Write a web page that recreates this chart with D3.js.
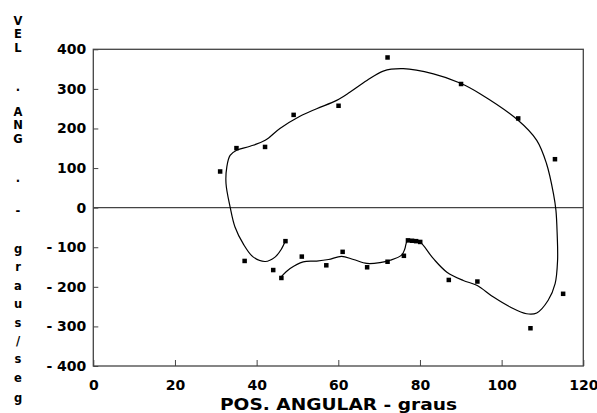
<!DOCTYPE html>
<html>
<head>
<meta charset="utf-8">
<script src="https://cdn.jsdelivr.net/npm/d3@7"></script>
<style>
  body { margin: 0; background: #fff; }
  svg { display: block; }
  text { font-family: "DejaVu Sans", sans-serif; font-weight: bold; fill: #000; }
</style>
</head>
<body>
<div id="chart-container"></div>
<script>
// measured points (POS. ANGULAR in graus, VEL. ANG. in graus/seg)
const posUpper = [31, 35, 42, 49, 60, 72, 90, 104, 113];
const velUpper = [92, 151, 154, 235, 258, 380, 313, 226, 123];
const posLower = [37, 44, 46, 47, 51, 57, 61, 67, 72, 76, 77, 78, 79, 80, 87, 94, 107, 115];
const velLower = [-134, -157, -177, -84, -123, -145, -111, -150, -136, -121, -82, -83, -84, -86, -182, -186, -304, -217];

// fitted curve
const curvePos = [46, 48.2, 51.4, 54.7, 57.6, 60.8, 63.7, 67, 70.2, 72.7, 75.5, 76.3, 76.9, 78.5, 80,
  83.3, 86.6, 90.6, 93.9, 98, 102.1, 106.1, 108.6, 111.4, 113.1, 113.7, 113.6, 113.3, 112.7, 111,
  108.6, 103.9, 94.7, 89.8, 83.3, 75.9, 71, 67, 62.9, 59.6, 54.7, 50.6, 45.7, 42.1, 38.4, 35.1,
  33.5, 32.7, 32.5, 33.5, 34.7, 36.7, 39.2, 42.1, 44.5, 46.1, 47];
const curveVel = [-175, -154, -137, -135, -131, -123, -131, -141, -139, -133, -120, -104, -84, -83, -87,
  -129, -163, -184, -196, -226, -251, -268, -266, -234, -192, -133, -66, -7, 35, 111,
  170, 222, 288, 315, 338, 351, 345, 321, 292, 271, 250, 231, 200, 170, 155, 145,
  132, 103, 61, 2, -49, -91, -125, -136, -125, -104, -85];

const xTicks = [0, 20, 40, 60, 80, 100, 120];
const yTicks = [-400, -300, -200, -100, 0, 100, 200, 300, 400];
const yTitle = "VEL. ANG. - graus/seg";
const xTitle = "POS. ANGULAR - graus";

const fWidth = 597, fHeight = 413;
const margin = {top: 49.3, right: 13.7, bottom: 47, left: 93.3};
const width = fWidth - margin.left - margin.right,
  height = fHeight - margin.top - margin.bottom;

const svg = d3.select("#chart-container").append("svg")
  .attr("width", fWidth)
  .attr("height", fHeight);

const canvas = svg.append("g")
  .attr("transform", `translate(${margin.left}, ${margin.top})`);

const xScale = d3.scaleLinear().domain([0, 120]).range([0, width]);
const yScale = d3.scaleLinear().domain([-400, 400]).range([height, 0]);

// axes, ticks pointing inward
const xAxis = canvas.append("g")
  .attr("transform", `translate(0, ${height})`)
  .call(d3.axisBottom(xScale).tickValues(xTicks).tickSizeInner(-6).tickSizeOuter(0).tickPadding(14));

const yAxis = canvas.append("g")
  .call(d3.axisLeft(yScale).tickValues(yTicks).tickSizeInner(-5).tickSizeOuter(0).tickPadding(7)
    .tickFormat(d => d < 0 ? "- " + Math.abs(d) : d));

[xAxis, yAxis].forEach(a => {
  a.select(".domain").remove();
  a.selectAll(".tick line").attr("stroke", "#444");
  a.selectAll("text")
    .style("font-family", "DejaVu Sans, sans-serif")
    .style("font-weight", "bold")
    .style("font-size", "14px")
    .attr("fill", "#000");
});

// frame
canvas.append("rect")
  .attr("x", 0).attr("y", 0)
  .attr("width", width).attr("height", height)
  .attr("fill", "none")
  .attr("stroke", "#444")
  .attr("stroke-width", 1.3);

// zero line
canvas.append("line")
  .attr("x1", 0).attr("x2", width)
  .attr("y1", yScale(0)).attr("y2", yScale(0))
  .attr("stroke", "#444")
  .attr("stroke-width", 1.3);

// curve
const curveData = curvePos.map((p, i) => ({x: p, y: curveVel[i]}));
const line = d3.line()
  .x(d => xScale(d.x))
  .y(d => yScale(d.y))
  .curve(d3.curveCatmullRom.alpha(0.5));

canvas.append("path")
  .datum(curveData)
  .attr("d", line)
  .attr("fill", "none")
  .attr("stroke", "#000")
  .attr("stroke-width", 1.2);

// points
const pts = posUpper.map((p, i) => ({x: p, y: velUpper[i]}))
  .concat(posLower.map((p, i) => ({x: p, y: velLower[i]})));

canvas.selectAll(".pt")
  .data(pts)
  .enter().append("rect")
    .classed("pt", true)
    .attr("x", d => xScale(d.x) - 2)
    .attr("y", d => yScale(d.y) - 2)
    .attr("width", 4.5)
    .attr("height", 4.5)
    .attr("fill", "#000");

// x title
svg.append("text")
  .attr("x", 220)
  .attr("y", 410)
  .attr("textLength", 237)
  .attr("lengthAdjust", "spacingAndGlyphs")
  .style("font-size", "16px")
  .text(xTitle);

// y title, one glyph per row
const yTitleRows = [20, 33.5, 47, 86, 111, 124.5, 138, 177, 210, 248, 266, 285, 303, 322, 340, 358, 377, 397];
const glyphs = yTitle.split("").filter(c => c !== " ");
svg.append("g").selectAll("text")
  .data(glyphs)
  .enter().append("text")
    .attr("x", 18)
    .attr("y", (d, i) => yTitleRows[i] + 4.5)
    .attr("text-anchor", "middle")
    .style("font-size", "11.5px")
    .text(d => d);
</script>
</body>
</html>
